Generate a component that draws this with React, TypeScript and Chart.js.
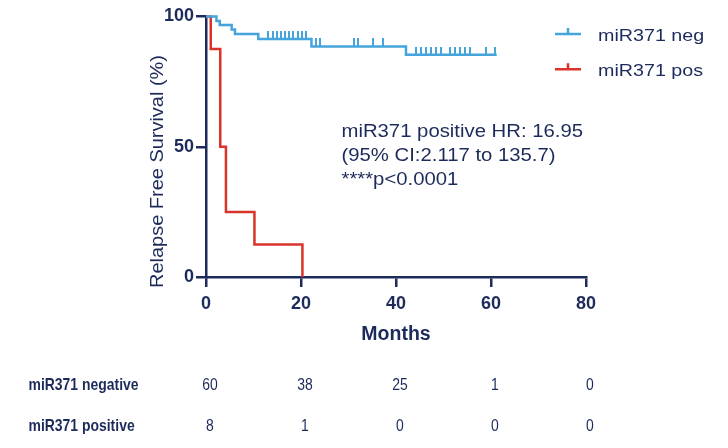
import React, { useEffect, useRef } from 'react';
import { Chart, registerables } from 'chart.js';

Chart.register(...registerables);

const NAVY = '#1d2b5b';
const BLUE = '#45a4dc';
const RED = '#d9342b';
const FONT = "'Liberation Sans', Arial, sans-serif";

// Kaplan-Meier curves (months, % relapse free)
const negTimes = [0, 2.2, 2.9, 5.4, 6.1, 11.0, 22.2, 42.1, 61.2];
const negSurvival = [100, 98.3, 96.7, 95.0, 93.3, 91.4, 88.5, 85.3, 85.3];
const posTimes = [0, 1.0, 3.0, 4.2, 10.2, 20.3];
const posSurvival = [100, 87.5, 50, 25, 12.5, 0];

// censored observations (miR371 neg)
const negCensorTimes = [
  13.1, 14.0, 14.9, 15.8, 16.7, 17.5, 18.4, 19.3, 20.2, 21.1,
  23.2, 24.0, 31.2, 32.1, 35.1, 37.2,
  44.2, 45.3, 46.3, 47.4, 48.4, 49.5, 51.4, 52.4, 53.5, 54.5, 55.6, 58.9, 60.8,
];
const negCensorSurvival = [
  91.4, 91.4, 91.4, 91.4, 91.4, 91.4, 91.4, 91.4, 91.4, 91.4,
  88.5, 88.5, 88.5, 88.5, 88.5, 88.5,
  85.3, 85.3, 85.3, 85.3, 85.3, 85.3, 85.3, 85.3, 85.3, 85.3, 85.3, 85.3, 85.3,
];

const xTicks = [0, 20, 40, 60, 80];
const yTicks = [0, 50, 100];
const groupLabels = ['miR371 neg', 'miR371 pos'];
const groupColors = [BLUE, RED];
const riskRowLabels = ['miR371 negative', 'miR371 positive'];
const riskNegative = [60, 38, 25, 1, 0];
const riskPositive = [8, 1, 0, 0, 0];
const annotationLines = ['miR371 positive HR: 16.95', '(95% CI:2.117 to 135.7)', '****p<0.0001'];
const yTitle = 'Relapse Free Survival (%)';
const xTitle = 'Months';

function makeTick(color: string) {
  const c = document.createElement('canvas');
  c.width = 2;
  c.height = 16;
  const g = c.getContext('2d')!;
  g.fillStyle = color;
  g.fillRect(0, 0, 2, 8);
  return c;
}

function stretchText(ctx: CanvasRenderingContext2D, text: string, x: number, y: number, sx: number, align: CanvasTextAlign) {
  ctx.save();
  ctx.translate(x, y);
  ctx.scale(sx, 1);
  ctx.textAlign = align;
  ctx.fillText(text, 0, 0);
  ctx.restore();
}

const overlay = {
  id: 'overlay',
  afterDraw(chart: any) {
    const ctx: CanvasRenderingContext2D = chart.ctx;
    const xs = chart.scales.x;
    ctx.save();
    ctx.fillStyle = NAVY;
    ctx.textBaseline = 'alphabetic';

    // y axis title
    ctx.save();
    ctx.translate(163, 171.5);
    ctx.rotate(-Math.PI / 2);
    ctx.scale(1.14, 1);
    ctx.font = `17.5px ${FONT}`;
    ctx.textAlign = 'center';
    ctx.fillText(yTitle, 0, 0);
    ctx.restore();

    // legend
    const legendY = [34, 69.3];
    const legendText = [40.7, 75.7];
    groupLabels.forEach((lab, i) => {
      ctx.strokeStyle = groupColors[i];
      ctx.lineWidth = 2.5;
      ctx.beginPath();
      ctx.moveTo(555, legendY[i]);
      ctx.lineTo(581, legendY[i]);
      ctx.moveTo(568, legendY[i]);
      ctx.lineTo(568, legendY[i] - 6);
      ctx.stroke();
      ctx.fillStyle = NAVY;
      ctx.font = `17.3px ${FONT}`;
      stretchText(ctx, lab, 598, legendText[i], 1.14, 'left');
    });

    // annotation
    ctx.font = `17.5px ${FONT}`;
    const annY = [137, 161, 185];
    annotationLines.forEach((l, i) => stretchText(ctx, l, 341.5, annY[i], 1.16, 'left'));

    // number at risk table
    const rowY = [390, 431];
    const rows = [riskNegative, riskPositive];
    riskRowLabels.forEach((lab, r) => {
      ctx.font = `bold 17px ${FONT}`;
      stretchText(ctx, lab, 28.5, rowY[r], 0.82, 'left');
      ctx.font = `17px ${FONT}`;
      rows[r].forEach((v, i) => {
        stretchText(ctx, String(v), xs.getPixelForValue(xTicks[i]) + 4, rowY[r], 0.82, 'center');
      });
    });
    ctx.restore();
  },
};

export default function App() {
  const ref = useRef<HTMLCanvasElement>(null);
  useEffect(() => {
    const tickBlue = makeTick(BLUE);
    const chart = new Chart(ref.current!, {
      type: 'line',
      data: {
        datasets: [
          {
            label: groupLabels[0],
            data: negTimes.map((t, i) => ({ x: t, y: negSurvival[i] })),
            borderColor: BLUE,
            borderWidth: 2.5,
            stepped: 'before',
            pointRadius: 0,
            fill: false,
            clip: false,
          },
          {
            label: groupLabels[1],
            data: posTimes.map((t, i) => ({ x: t, y: posSurvival[i] })),
            borderColor: RED,
            borderWidth: 2.5,
            stepped: 'before',
            pointRadius: 0,
            fill: false,
            clip: false,
          },
          {
            label: 'censored',
            data: negCensorTimes.map((t, i) => ({ x: t, y: negCensorSurvival[i] })),
            showLine: false,
            pointStyle: tickBlue as any,
            pointRadius: 8,
            clip: false,
          },
        ],
      } as any,
      options: {
        animation: false,
        responsive: false,
        devicePixelRatio: 1,
        events: [],
        layout: { padding: { left: 141, right: 142, top: 16.5, bottom: 101.6 } },
        plugins: { legend: { display: false }, tooltip: { enabled: false } },
        scales: {
          x: {
            type: 'linear',
            min: 0,
            max: 80,
            afterBuildTicks: (s: any) => { s.ticks = xTicks.map((v) => ({ value: v })); },
            afterFit: (s: any) => { s.height = 69.4; },
            ticks: { color: NAVY, font: { family: FONT, size: 18, weight: 'bold' }, padding: 6 },
            grid: { drawOnChartArea: false, drawTicks: true, tickLength: 10, color: NAVY, lineWidth: 2.5 },
            border: { display: true, color: NAVY, width: 2.5 },
            title: { display: true, text: xTitle, color: NAVY, font: { family: FONT, size: 19.5, weight: 'bold' }, padding: 0 },
          },
          y: {
            type: 'linear',
            min: 0,
            max: 100,
            afterBuildTicks: (s: any) => { s.ticks = yTicks.map((v) => ({ value: v })); },
            afterFit: (s: any) => { s.width = 65; },
            ticks: { color: NAVY, font: { family: FONT, size: 18, weight: 'bold' }, padding: 2 },
            grid: { drawOnChartArea: false, drawTicks: true, tickLength: 10, color: NAVY, lineWidth: 2.5 },
            border: { display: true, color: NAVY, width: 2.5 },
          },
        },
      } as any,
      plugins: [overlay],
    });
    return () => chart.destroy();
  }, []);
  return (
    <div style={{ position: 'fixed', left: 0, top: 0, width: 728, height: 448, background: '#fff' }}>
      <canvas ref={ref} width={728} height={448} />
    </div>
  );
}
